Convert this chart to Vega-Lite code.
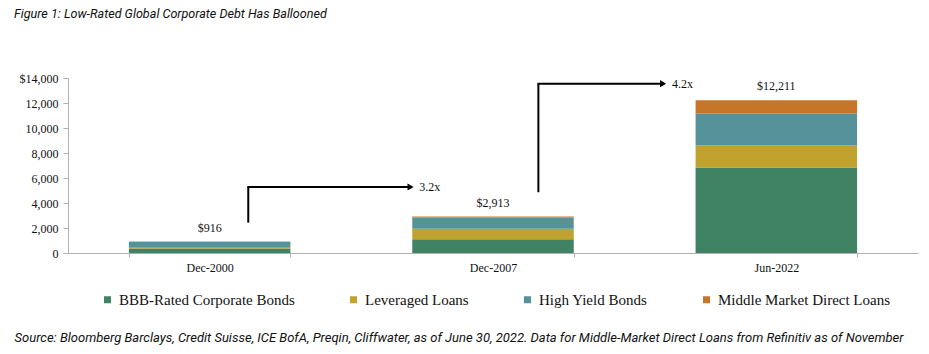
{
  "$schema": "https://vega.github.io/schema/vega-lite/v6.json",
  "autosize": {"type": "none"},
  "width": 850,
  "height": 175,
  "padding": {"left": 68, "top": 78, "right": 11, "bottom": 101},
  "background": "white",
  "title": {
    "text": "Figure 1: Low-Rated Global Corporate Debt Has Ballooned",
    "anchor": "start",
    "frame": "group",
    "offset": 51,
    "dx": -54,
    "font": "Roboto",
    "fontSize": 12.6,
    "fontStyle": "italic",
    "fontWeight": "normal",
    "color": "#111"
  },
  "config": {
    "view": {"stroke": null},
    "axis": {"grid": false, "labelFont": "Liberation Serif", "labelFontSize": 12, "labelColor": "#111", "domainColor": "#b0b0b0", "tickColor": "#b0b0b0"},
    "axisX": {
      "labelAngle": 0, "tickBand": "extent", "tickSize": 4, "labelPadding": 5,
      "titleFont": "Roboto", "titleFontSize": 13, "titleFontStyle": "italic", "titleFontWeight": "normal", "titleColor": "#111",
      "titleAnchor": "start", "titleAlign": "left", "titleBaseline": "middle", "titleX": -54, "titleY": 84, "titleLimit": 1000
    },
    "axisY": {"tickSize": 5, "labelPadding": 5, "labelOverlap": false},
    "legend": {"labelFont": "Liberation Serif"}
  },
  "layer": [
    {
      "data": {"values": [
        {"period": "Dec-2000", "type": "BBB-Rated Corporate Bonds", "rank": 1, "value": 360},
        {"period": "Dec-2000", "type": "Leveraged Loans", "rank": 2, "value": 130},
        {"period": "Dec-2000", "type": "High Yield Bonds", "rank": 3, "value": 406},
        {"period": "Dec-2000", "type": "Middle Market Direct Loans", "rank": 4, "value": 20},
        {"period": "Dec-2007", "type": "BBB-Rated Corporate Bonds", "rank": 1, "value": 1100},
        {"period": "Dec-2007", "type": "Leveraged Loans", "rank": 2, "value": 850},
        {"period": "Dec-2007", "type": "High Yield Bonds", "rank": 3, "value": 900},
        {"period": "Dec-2007", "type": "Middle Market Direct Loans", "rank": 4, "value": 63},
        {"period": "Jun-2022", "type": "BBB-Rated Corporate Bonds", "rank": 1, "value": 6850},
        {"period": "Jun-2022", "type": "Leveraged Loans", "rank": 2, "value": 1750},
        {"period": "Jun-2022", "type": "High Yield Bonds", "rank": 3, "value": 2560},
        {"period": "Jun-2022", "type": "Middle Market Direct Loans", "rank": 4, "value": 1051}
      ]},
      "layer": [
        {
          "mark": {"type": "bar"},
          "encoding": {
            "x": {
              "field": "period", "type": "nominal",
              "scale": {"domain": ["Dec-2000", "Dec-2007", "Jun-2022"], "paddingInner": 0.43, "paddingOuter": 0.215},
              "axis": {"title": "Source: Bloomberg Barclays, Credit Suisse, ICE BofA, Preqin, Cliffwater, as of June 30, 2022. Data for Middle-Market Direct Loans from Refinitiv as of November"}
            },
            "y": {
              "field": "value", "type": "quantitative", "aggregate": "sum",
              "scale": {"domain": [0, 14000], "nice": false},
              "axis": {"values": [0, 2000, 4000, 6000, 8000, 10000, 12000, 14000], "title": null,
                "labelExpr": "datum.value == 14000 ? '$14,000' : format(datum.value, ',')"}
            },
            "color": {
              "field": "type", "type": "nominal",
              "scale": {
                "domain": ["BBB-Rated Corporate Bonds", "Leveraged Loans", "High Yield Bonds", "Middle Market Direct Loans"],
                "range": ["#3f8264", "#c2a22f", "#55929a", "#c5762a"]
              },
              "legend": {
                "title": null, "orient": "none", "legendX": 32, "legendY": 214, "direction": "horizontal", "columns": 4,
                "columnPadding": 51, "padding": 0, "labelFontSize": 15, "labelColor": "#111", "labelLimit": 400, "symbolType": "square", "symbolSize": 49,
                "symbolStrokeWidth": 0, "labelOffset": 4
              }
            },
            "order": {"field": "rank", "type": "quantitative"}
          }
        },
        {
          "mark": {"type": "text", "baseline": "bottom", "dy": -7, "font": "Liberation Serif", "fontSize": 12, "color": "#111"},
          "encoding": {
            "x": {"field": "period", "type": "nominal",
              "axis": {"title": "Source: Bloomberg Barclays, Credit Suisse, ICE BofA, Preqin, Cliffwater, as of June 30, 2022. Data for Middle-Market Direct Loans from Refinitiv as of November"}},
            "y": {"field": "value", "type": "quantitative", "aggregate": "sum",
              "axis": {"values": [0, 2000, 4000, 6000, 8000, 10000, 12000, 14000], "title": null,
                "labelExpr": "datum.value == 14000 ? '$14,000' : format(datum.value, ',')"}},
            "text": {"field": "value", "type": "quantitative", "aggregate": "sum", "format": "$,"}
          }
        }
      ]
    },
    {
      "data": {"values": [
        {"period": "Dec-2000", "y0": 2430, "y1": 5280, "label": "3.2x"}
      ]},
      "encoding": {
        "x": {"field": "period", "type": "nominal",
          "axis": {"title": "Source: Bloomberg Barclays, Credit Suisse, ICE BofA, Preqin, Cliffwater, as of June 30, 2022. Data for Middle-Market Direct Loans from Refinitiv as of November"}},
        "y": {"field": "y1", "type": "quantitative",
          "axis": {"values": [0, 2000, 4000, 6000, 8000, 10000, 12000, 14000], "title": null,
            "labelExpr": "datum.value == 14000 ? '$14,000' : format(datum.value, ',')"}}
      },
      "layer": [
        {"mark": {"type": "rule", "color": "black", "strokeWidth": 2},
         "encoding": {"x": {"field": "period", "type": "nominal", "bandPosition": 0.739}, "y": {"field": "y0", "type": "quantitative"}, "y2": {"field": "y1"}}},
        {"mark": {"type": "rule", "color": "black", "strokeWidth": 2},
         "encoding": {"x": {"field": "period", "type": "nominal", "bandPosition": 0.733}, "x2": {"field": "period", "bandPosition": 1.745}}},
        {"mark": {"type": "point", "shape": "triangle-right", "filled": true, "color": "black", "opacity": 1, "size": 50},
         "encoding": {"x": {"field": "period", "type": "nominal", "bandPosition": 1.744}}},
        {"mark": {"type": "text", "align": "left", "baseline": "middle", "font": "Liberation Serif", "fontSize": 12, "color": "#111"},
         "encoding": {"x": {"field": "period", "type": "nominal", "bandPosition": 1.797}, "text": {"field": "label"}}}
      ]
    },
    {
      "data": {"values": [
        {"period": "Dec-2007", "y0": 4860, "y1": 13550, "label": "4.2x"}
      ]},
      "encoding": {
        "x": {"field": "period", "type": "nominal",
          "axis": {"title": "Source: Bloomberg Barclays, Credit Suisse, ICE BofA, Preqin, Cliffwater, as of June 30, 2022. Data for Middle-Market Direct Loans from Refinitiv as of November"}},
        "y": {"field": "y1", "type": "quantitative",
          "axis": {"values": [0, 2000, 4000, 6000, 8000, 10000, 12000, 14000], "title": null,
            "labelExpr": "datum.value == 14000 ? '$14,000' : format(datum.value, ',')"}}
      },
      "layer": [
        {"mark": {"type": "rule", "color": "black", "strokeWidth": 2},
         "encoding": {"x": {"field": "period", "type": "nominal", "bandPosition": 0.781}, "y": {"field": "y0", "type": "quantitative"}, "y2": {"field": "y1"}}},
        {"mark": {"type": "rule", "color": "black", "strokeWidth": 2},
         "encoding": {"x": {"field": "period", "type": "nominal", "bandPosition": 0.775}, "x2": {"field": "period", "bandPosition": 1.555}}},
        {"mark": {"type": "point", "shape": "triangle-right", "filled": true, "color": "black", "opacity": 1, "size": 50},
         "encoding": {"x": {"field": "period", "type": "nominal", "bandPosition": 1.553}}},
        {"mark": {"type": "text", "align": "left", "baseline": "middle", "font": "Liberation Serif", "fontSize": 12, "color": "#111"},
         "encoding": {"x": {"field": "period", "type": "nominal", "bandPosition": 1.609}, "text": {"field": "label"}}}
      ]
    }
  ]
}
